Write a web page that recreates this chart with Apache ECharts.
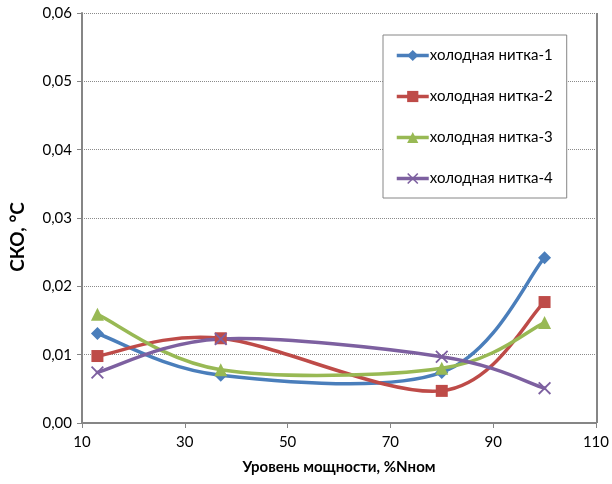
<!DOCTYPE html>
<html>
<head>
<meta charset="utf-8">
<script src="https://cdn.jsdelivr.net/npm/echarts@6/dist/echarts.min.js"></script>
<style>html,body{margin:0;padding:0;background:#fff}#c{width:612px;height:484px}</style>
</head>
<body>
<div id="c"></div>
<script>
const xValues = [13, 37, 80, 100];
const seriesNames = ['холодная нитка-1', 'холодная нитка-2', 'холодная нитка-3', 'холодная нитка-4'];
const s1 = [0.0131, 0.0070, 0.0074, 0.0242];
const s2 = [0.0098, 0.0124, 0.0047, 0.0177];
const s3 = [0.0159, 0.0078, 0.0080, 0.0147];
const s4 = [0.0074, 0.0123, 0.0097, 0.0051];
const colors = ['#4a7ebb', '#be4b48', '#98b954', '#7d60a0'];
const xName = 'Уровень мощности, %Nном';
const yName = 'СКО, °С';

const FONT = 'Lato, "Open Sans", sans-serif';
const xMark = 'path://M0,1L1,0L5,4L9,0L10,1L6,5L10,9L9,10L5,6L1,10L0,9L4,5Z';
const symbols = ['diamond', 'rect', 'triangle', xMark];
const sizes = [13, 12, 13, 13];
const data = [s1, s2, s3, s4];
const LW = 3.5;

// Excel-style smoothed segment (Catmull-Rom, drawn as cubic Bezier in pixel space)
function curveRenderer(vals, color) {
  return function (params, api) {
    const i = params.dataIndex;
    if (i >= xValues.length - 1) return null;
    const P = xValues.map((x, j) => api.coord([x, vals[j]]));
    const p0 = P[Math.max(i - 1, 0)], p1 = P[i], p2 = P[i + 1], p3 = P[Math.min(i + 2, P.length - 1)];
    const c1 = [p1[0] + (p2[0] - p0[0]) / 6, p1[1] + (p2[1] - p0[1]) / 6];
    const c2 = [p2[0] - (p3[0] - p1[0]) / 6, p2[1] - (p3[1] - p1[1]) / 6];
    return {
      type: 'bezierCurve',
      shape: {x1: p1[0], y1: p1[1], cpx1: c1[0], cpy1: c1[1], cpx2: c2[0], cpy2: c2[1], x2: p2[0], y2: p2[1]},
      style: {stroke: color, lineWidth: LW, fill: null, lineCap: 'round'}
    };
  };
}

const markSeries = seriesNames.map((n, i) => ({
  name: n, type: 'line',
  data: xValues.map((x, j) => [x, data[i][j]]),
  symbol: symbols[i], symbolSize: sizes[i], showSymbol: true,
  itemStyle: {color: colors[i]},
  lineStyle: {color: colors[i], width: LW, opacity: 0},
  z: 10 + i
}));
const curveSeries = seriesNames.map((n, i) => ({
  name: n + ' (кривая)', type: 'custom', renderItem: curveRenderer(data[i], colors[i]),
  data: xValues.map((x, j) => [x, data[i][j]]),
  itemStyle: {color: colors[i]},
  encode: {x: 0, y: 1}, z: 3 + i, silent: true
}));

const chart = echarts.init(document.getElementById('c'));
chart.setOption({
  animation: false,
  backgroundColor: '#fff',
  grid: {left: 78, right: 15, top: 13, bottom: 61},
  legend: {
    orient: 'vertical', left: 383, top: 35,
    padding: [13, 14, 12, 12], itemGap: 26, itemWidth: 32, itemHeight: 14,
    borderColor: '#868686', borderWidth: 1, backgroundColor: '#fff',
    textStyle: {fontFamily: FONT, fontSize: 15, color: '#000', padding: [0, 0, 0, -4]},
    data: seriesNames.map((n, i) => ({name: n, lineStyle: {color: colors[i], width: LW, opacity: 1}}))
  },
  xAxis: {
    type: 'value', min: 10, max: 110, interval: 20,
    name: xName, nameLocation: 'middle', nameGap: 37,
    nameTextStyle: {fontFamily: FONT, fontSize: 15, fontWeight: 'bold', color: '#000'},
    axisLine: {show: true, lineStyle: {color: '#868686', width: 2}},
    axisTick: {show: true, length: 5, lineStyle: {color: '#868686', width: 1}},
    axisLabel: {fontFamily: FONT, fontSize: 15, color: '#000', margin: 12},
    splitLine: {show: false}
  },
  yAxis: {
    type: 'value', min: 0, max: 0.06, interval: 0.01,
    name: yName, nameLocation: 'middle', nameGap: 55, nameRotate: 90,
    nameTextStyle: {fontFamily: FONT, fontSize: 19, fontWeight: 'bold', color: '#000', padding: [0, 0, 0, -38]},
    axisLine: {show: true, lineStyle: {color: '#868686', width: 2}},
    axisTick: {show: true, length: 5, lineStyle: {color: '#868686', width: 1}},
    axisLabel: {fontFamily: FONT, fontSize: 15, color: '#000', margin: 10,
      formatter: v => v.toFixed(2).replace('.', ',')},
    splitLine: {show: true, lineStyle: {color: '#8a8a8a', type: [1, 1], width: 1}}
  },
  graphic: [{
    type: 'line', shape: {x1: 597, y1: 13, x2: 597, y2: 423},
    style: {stroke: '#868686', lineWidth: 2}, z: 1
  }],
  series: markSeries.concat(curveSeries)
});
</script>
</body>
</html>
